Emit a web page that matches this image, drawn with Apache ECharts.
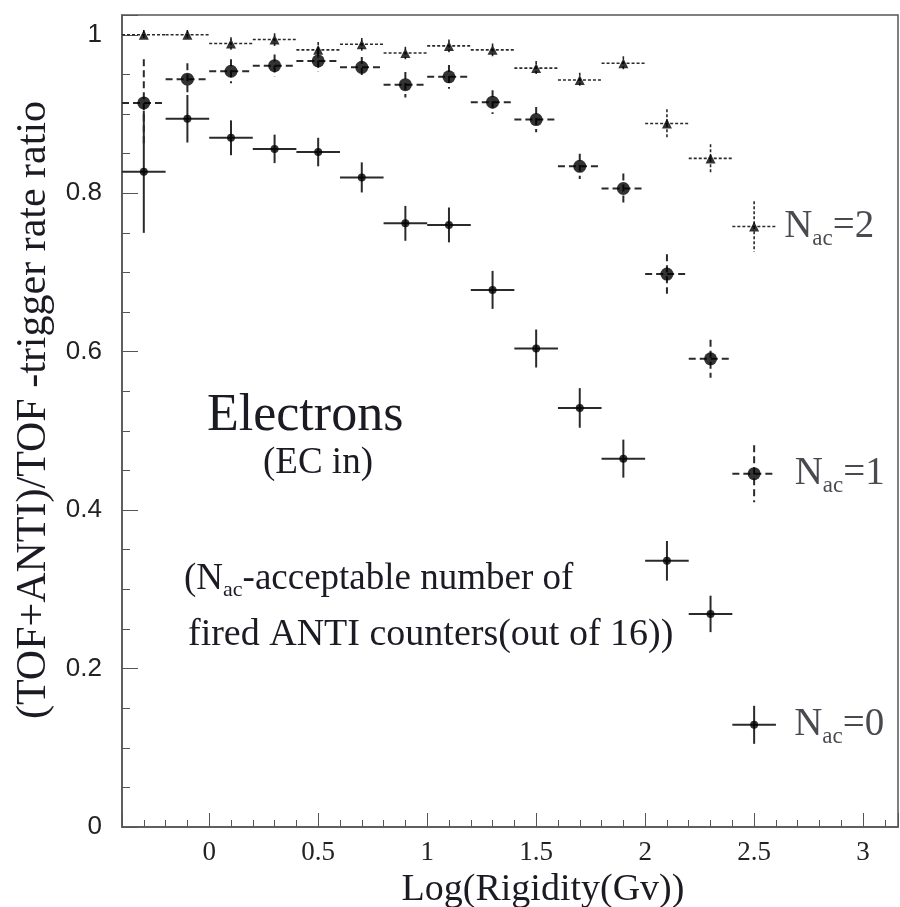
<!DOCTYPE html>
<html>
<head>
<meta charset="utf-8">
<script src="https://cdn.jsdelivr.net/npm/echarts@6/dist/echarts.min.js"></script>
<style>html,body{margin:0;padding:0;background:#fff}</style>
</head>
<body>
<div id="main" style="width:900px;height:907px"></div>
<script type="text/javascript">
	// bin centres of Log(Rigidity), each bin is 0.2 wide
	var binX = [-0.3, -0.1, 0.1, 0.3, 0.5, 0.7, 0.9, 1.1, 1.3, 1.5, 1.7, 1.9, 2.1, 2.3];
	var binHalf = 0.1;
	// N_ac = 0 (solid)
	var nac0 = [0.827, 0.894, 0.870, 0.856, 0.852, 0.820, 0.762, 0.760, 0.678, 0.604, 0.529, 0.465, 0.336, 0.269];
	var nac0Err = [0.077, 0.030, 0.022, 0.018, 0.018, 0.019, 0.022, 0.022, 0.024, 0.024, 0.025, 0.024, 0.025, 0.023];
	// N_ac = 1 (dashed)
	var nac1 = [0.914, 0.944, 0.954, 0.961, 0.967, 0.959, 0.937, 0.947, 0.915, 0.893, 0.834, 0.806, 0.698, 0.591];
	var nac1Err = [0.055, 0.020, 0.015, 0.014, 0.014, 0.013, 0.016, 0.015, 0.015, 0.016, 0.016, 0.019, 0.025, 0.024];
	// N_ac = 2 (dotted)
	var nac2 = [1.000, 1.000, 0.989, 0.994, 0.981, 0.988, 0.977, 0.986, 0.981, 0.958, 0.943, 0.964, 0.888, 0.844];
	var nac2Err = [0.006, 0.006, 0.008, 0.008, 0.010, 0.008, 0.008, 0.008, 0.008, 0.009, 0.009, 0.009, 0.018, 0.018];
	// key samples drawn inside the frame
	var keyX = 2.5;
	var keyY = [0.129, 0.446, 0.758];
	var keyErr = [0.024, 0.036, 0.032];
	var keyNames = ['0', '1', '2'];

	var serif = '"Liberation Serif", "DejaVu Serif", serif';
	var sans = '"Liberation Sans", Arial, sans-serif';
	var ink = '#1b1b24';

	var dashes = [null, [7, 4], [3, 2]];
	var widths = [2, 2, 1.6];
	var symbols = ['circle', 'circle', 'triangle'];
	var sizes = [8, 13, 10];
	var labelGap = [36, 34, 25];

	function pack(ys, errs) {
		return binX.map(function (x, i) { return [x, ys[i], binHalf, errs[i]]; });
	}

	// draws a cross: horizontal bin width + vertical error
	function errorItem(dash, width) {
		return function (params, api) {
			var x = api.value(0), y = api.value(1), ex = api.value(2), ey = api.value(3);
			var l = api.coord([x - ex, y]), r = api.coord([x + ex, y]);
			var t = api.coord([x, y + ey]), b = api.coord([x, y - ey]);
			var st = { stroke: '#2a2a2a', lineWidth: width, lineDash: dash };
			return {
				type: 'group',
				children: [
					{ type: 'line', shape: { x1: l[0], y1: l[1], x2: r[0], y2: r[1] }, style: st },
					{ type: 'line', shape: { x1: t[0], y1: t[1], x2: b[0], y2: b[1] }, style: st }
				]
			};
		};
	}

	var groups = [pack(nac0, nac0Err), pack(nac1, nac1Err), pack(nac2, nac2Err)];
	var series = [];
	groups.forEach(function (data, k) {
		var keyData = [[keyX, keyY[k], binHalf, keyErr[k]]];
		series.push({ type: 'custom', renderItem: errorItem(dashes[k], widths[k]), data: data.concat(keyData), z: 2, silent: true });
		series.push({
			type: 'scatter', symbol: symbols[k], symbolSize: sizes[k], z: 3, silent: true,
			itemStyle: { color: '#000' },
			data: data.map(function (d) { return [d[0], d[1]]; })
		});
		series.push({
			type: 'scatter', symbol: symbols[k], symbolSize: sizes[k], z: 3, silent: true,
			itemStyle: { color: '#000' },
			label: {
				show: true, position: 'right', distance: labelGap[k],
				formatter: '{n|N}{s|ac}{n|=' + keyNames[k] + '}',
				rich: {
					n: { fontFamily: serif, fontSize: 39, color: ink },
					s: { fontFamily: serif, fontSize: 23, color: ink, padding: [24, 0, 0, 0] }
				}
			},
			data: [[keyX, keyY[k]]]
		});
	});

	var myChart = echarts.init(document.getElementById('main'));
	var option = {
		animation: false,
		backgroundColor: '#fff',
		grid: {
			left: 122, right: 2, top: 15, bottom: 80, outerBoundsMode: 'none',
			show: true, borderColor: '#555', borderWidth: 1.5
		},
		xAxis: [
			{
				type: 'value', min: -0.4, max: 3.16, interval: 0.1, position: 'bottom',
				axisLine: { show: true, onZero: false, lineStyle: { color: '#555', width: 1.5 } },
				axisTick: { show: true, inside: true, length: 7, lineStyle: { color: '#555' } },
				axisLabel: { show: false }, splitLine: { show: false }
			},
			{
				type: 'value', min: -0.4, max: 3.16, splitNumber: 7, position: 'bottom',
				axisLine: { show: false, onZero: false },
				axisTick: { show: true, inside: true, length: 14, lineStyle: { color: '#555' } },
				axisLabel: {
					fontFamily: serif, fontSize: 27, color: '#222', margin: 12,
					formatter: function (v) { return Math.abs(v * 2 - Math.round(v * 2)) < 1e-6 ? String(v) : ''; }
				},
				splitLine: { show: false },
				name: 'Log(Rigidity(Gv))', nameLocation: 'middle', nameGap: 34,
				nameTextStyle: { fontFamily: serif, fontSize: 38, color: ink, padding: [0, 0, 0, 66] }
			}
		],
		yAxis: [
			{
				type: 'value', min: 0, max: 1.025, interval: 0.05, position: 'left',
				axisLine: { show: true, onZero: false, lineStyle: { color: '#555', width: 1.5 } },
				axisTick: { show: true, inside: true, length: 8, lineStyle: { color: '#555' } },
				axisLabel: { show: false }, splitLine: { show: false }
			},
			{
				type: 'value', min: 0, max: 1.025, interval: 0.2, position: 'left',
				axisLine: { show: false, onZero: false },
				axisTick: { show: true, inside: true, length: 16, lineStyle: { color: '#555' } },
				axisLabel: {
					fontFamily: sans, fontSize: 26, color: '#222', margin: 20,
					formatter: function (v) { return v > 1.001 ? '' : String(v); }
				},
				splitLine: { show: false },
				name: '(TOF+ANTI)/TOF -trigger rate ratio', nameLocation: 'middle', nameGap: 66, nameRotate: 90,
				nameTextStyle: { fontFamily: serif, fontSize: 42, color: ink, padding: [0, 0, 0, 22] }
			}
		],
		graphic: [
			{ type: 'text', left: 207, top: 390, style: { text: 'Electrons', fontFamily: serif, fontSize: 52, fill: ink } },
			{ type: 'text', left: 263, top: 445, style: { text: '(EC in)', fontFamily: serif, fontSize: 37, fill: ink } },
			{
				type: 'text', left: 184, top: 561,
				style: {
					text: '{n|(N}{s|ac}{n|-acceptable number of}',
					rich: {
						n: { fontFamily: serif, fontSize: 37, fill: ink },
						s: { fontFamily: serif, fontSize: 22, fill: ink, padding: [22, 0, 0, 0] }
					}
				}
			},
			{ type: 'text', left: 188, top: 616, style: { text: 'fired ANTI counters(out of 16))', fontFamily: serif, fontSize: 38, fill: ink } }
		],
		series: series
	};
	myChart.setOption(option);
</script>
</body>
</html>
